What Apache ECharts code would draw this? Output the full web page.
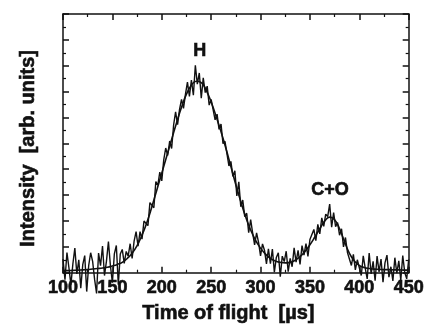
<!DOCTYPE html>
<html>
<head>
<meta charset="utf-8">
<script src="https://cdn.jsdelivr.net/npm/echarts@6/dist/echarts.min.js"></script>
<style>
html,body{margin:0;padding:0;background:#fff;}
#chart{width:427px;height:329px;}
</style>
</head>
<body>
<div id="chart"></div>
<script>
// Measured time-of-flight spectrum (µs, arb. units)
var tofTimes = [100,102,104,106,108,110,112,114,116,118,120,122,124,126,128,130,132,134,136,138,140,142,144,146,148,150,152,154,156,158,160,162,164,166,168,170,172,174,176,178,180,182,184,186,188,190,192,194,196,198,200,202,204,206,208,210,212,214,216,218,220,222,224,226,228,230,232,234,236,238,240,242,244,246,248,250,252,254,256,258,260,262,264,266,268,270,272,274,276,278,280,282,284,286,288,290,292,294,296,298,300,302,304,306,308,310,312,314,316,318,320,322,324,326,328,330,332,334,336,338,340,342,344,346,348,350,352,354,356,358,360,362,364,366,368,370,372,374,376,378,380,382,384,386,388,390,392,394,396,398,400,402,404,406,408,410,412,414,416,418,420,422,424,426,428,430,432,434,436,438,440,442,444,446,448,450];
var tofCounts = [
  0.53,-0.27,0.78,0.19,-0.46,0.34,0.95,-0.05,0.50,-0.60,
  0.31,0.66,-0.73,0.27,0.77,0.44,-0.26,-0.80,0.76,0.27,
  1.03,-0.11,0.45,1.20,0.28,-0.39,0.73,1.05,-0.46,0.72,
  0.90,0.36,0.82,0.64,1.12,0.55,1.22,1.59,1.03,1.59,
  1.30,2.00,1.95,1.82,2.71,2.70,2.51,3.52,3.38,3.89,
  3.55,4.36,4.82,4.53,5.09,4.80,5.71,6.22,5.72,6.31,
  6.70,6.35,6.90,7.37,6.81,7.45,6.86,8.02,7.29,7.72,
  6.75,7.53,6.96,7.21,6.48,6.70,6.73,5.91,6.13,5.54,
  5.75,4.99,5.08,5.01,4.13,4.30,3.72,3.94,2.97,3.51,
  2.55,2.81,2.17,2.30,1.55,2.05,1.54,1.08,1.54,1.17,
  0.65,1.11,0.87,0.34,0.92,0.35,0.91,0.02,0.59,0.77,
  -0.15,0.64,0.43,0.83,0.04,0.55,0.23,0.96,0.41,0.86,
  0.32,1.05,0.68,1.12,0.63,1.28,1.25,1.67,1.24,1.87,
  1.50,2.12,1.79,2.26,2.17,2.65,1.76,2.32,1.78,1.94,
  1.45,1.70,1.00,1.36,0.78,0.85,0.28,0.71,0.11,0.50,
  0.48,-0.11,0.65,0.18,-0.24,0.76,-0.05,0.44,-0.31,0.64,
  0.03,0.53,-0.37,0.38,0.68,-0.17,0.23,-0.32,0.58,-0.02,
  0.46,-0.29,0.66,0.01,-0.24,0.51
];

// Smooth fit curve
var fitTimes = [100,105,110,115,120,125,130,135,140,145,150,155,160,165,170,175,180,185,190,195,200,205,210,215,220,225,230,235,240,245,250,255,260,265,270,275,280,285,290,295,300,305,310,315,320,325,330,335,340,345,350,355,360,365,370,375,380,385,390,395,400,405,410,415,420,425,430,435,440,445,450];
var fitValues = [0.08,0.08,0.09,0.10,0.11,0.12,0.14,0.16,0.18,0.21,0.26,0.32,0.40,0.55,0.75,1.05,1.45,1.95,2.55,3.20,3.85,4.50,5.15,5.80,6.40,6.90,7.25,7.40,7.35,7.05,6.60,6.05,5.45,4.80,4.10,3.40,2.75,2.15,1.65,1.25,0.95,0.72,0.55,0.45,0.40,0.38,0.40,0.48,0.62,0.82,1.08,1.38,1.70,2.00,2.15,2.05,1.70,1.20,0.75,0.45,0.28,0.20,0.16,0.14,0.13,0.12,0.12,0.11,0.11,0.10,0.10];

var xTickLabels = ['100','150','200','250','300','350','400','450'];
var peakLabels = ['H', 'C+O'];

var ink = '#111';
var font = '"Liberation Sans", Arial, Helvetica, sans-serif';
var heavy = { textBorderColor: ink, textBorderWidth: 0.6 };

function pairs(xs, ys) { return xs.map(function (x, i) { return [x, ys[i]]; }); }

var tickCommon = {
  axisLine: { show: true, onZero: false, lineStyle: { color: ink, width: 1.5 } },
  axisTick: { show: true, inside: true, length: 6, lineStyle: { color: ink, width: 1.5 } },
  minorTick: { show: true, splitNumber: 2, length: 3, lineStyle: { color: ink, width: 1.2 } },
  splitLine: { show: false }
};

var chart = echarts.init(document.getElementById('chart'), null, { renderer: 'canvas' });
chart.setOption({
  animation: false,
  backgroundColor: '#fff',
  grid: { left: 63, right: 17, top: 14, bottom: 54, containLabel: false },
  xAxis: [
    Object.assign({
      type: 'value', min: 100, max: 450, interval: 50, position: 'bottom',
      name: 'Time of flight  [\u00b5s]', nameLocation: 'middle', nameGap: 31,
      nameTextStyle: Object.assign({ color: ink, fontFamily: font, fontWeight: 'bold', fontSize: 20, padding: [0, 15, 0, 0] }, heavy),
      axisLabel: Object.assign({
        color: ink, fontFamily: font, fontWeight: 'bold', fontSize: 18, margin: 6,
        formatter: function (v) { var i = xTickLabels.indexOf(String(v)); return i >= 0 ? xTickLabels[i] : ''; }
      }, heavy)
    }, tickCommon),
    Object.assign({
      type: 'value', min: 100, max: 450, interval: 50, position: 'top',
      axisLabel: { show: false }
    }, tickCommon)
  ],
  yAxis: [
    Object.assign({
      type: 'value', min: 0, max: 10, interval: 1, position: 'left',
      name: 'Intensity  [arb. units]', nameLocation: 'middle', nameGap: 25,
      nameTextStyle: Object.assign({ color: ink, fontFamily: font, fontWeight: 'bold', fontSize: 20, padding: [0, 10, 0, 0] }, heavy),
      axisLabel: { show: false }
    }, tickCommon),
    Object.assign({
      type: 'value', min: 0, max: 10, interval: 1, position: 'right',
      axisLabel: { show: false }
    }, tickCommon)
  ],
  series: [
    {
      type: 'line', name: 'data', xAxisIndex: 0, yAxisIndex: 0,
      data: pairs(tofTimes, tofCounts), showSymbol: false, clip: false,
      lineStyle: { color: ink, width: 1.4 }, z: 3
    },
    {
      type: 'line', name: 'fit', xAxisIndex: 0, yAxisIndex: 0,
      data: pairs(fitTimes, fitValues), showSymbol: false, smooth: true,
      lineStyle: { color: ink, width: 1.6 }, z: 4
    }
  ],
  graphic: [
    { type: 'text', left: 193, top: 42, style: { text: peakLabels[0], fill: ink, stroke: ink, lineWidth: 0.6, font: 'bold 18px ' + font } },
    { type: 'text', left: 311, top: 181, style: { text: peakLabels[1], fill: ink, stroke: ink, lineWidth: 0.6, font: 'bold 18px ' + font } }
  ]
});
</script>
</body>
</html>
